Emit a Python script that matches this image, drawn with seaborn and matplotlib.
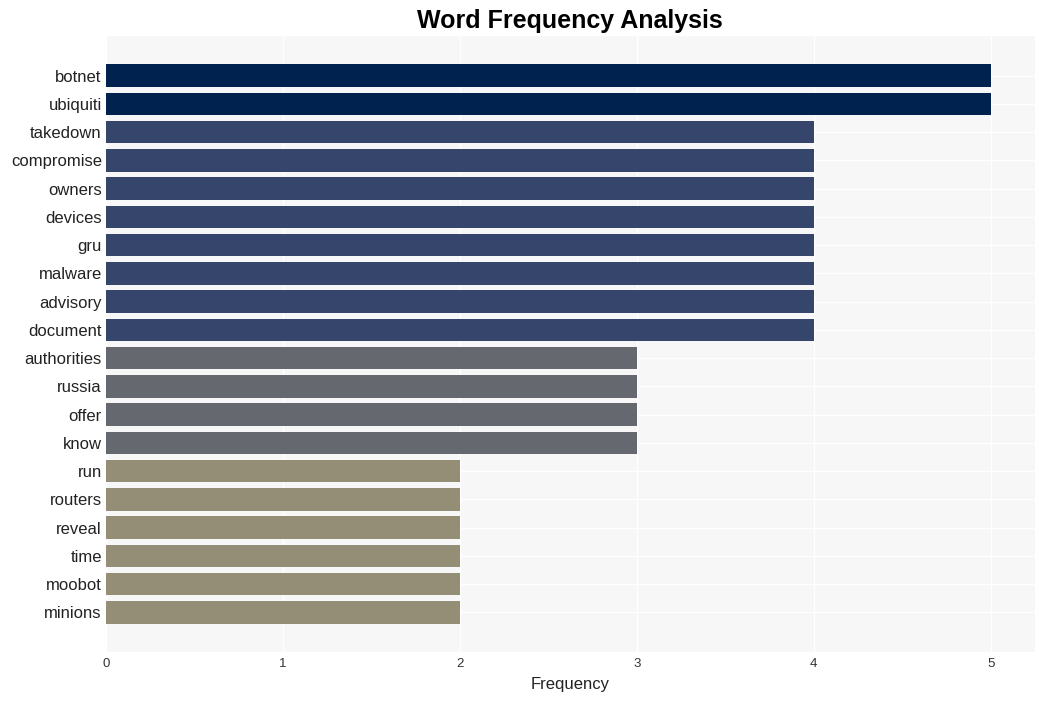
import matplotlib
matplotlib.use("Agg")
import matplotlib.pyplot as plt
import seaborn as sns
import pandas as pd

words = ["botnet", "ubiquiti", "takedown", "compromise", "owners", "devices", "gru",
         "malware", "advisory", "document", "authorities", "russia", "offer", "know",
         "run", "routers", "reveal", "time", "moobot", "minions"]
counts = [5, 5, 4, 4, 4, 4, 4, 4, 4, 4, 3, 3, 3, 3, 2, 2, 2, 2, 2, 2]
level_colors = {5: "#00224e", 4: "#35456c", 3: "#666870", 2: "#948e77"}

sns.set_theme(style="whitegrid")
plt.rcParams["font.family"] = ["Liberation Sans", "DejaVu Sans"]

df = pd.DataFrame({"word": words, "count": counts})

fig = plt.figure(figsize=(10.45, 7.01), dpi=100)
ax = fig.add_axes([0.1014, 0.0699, 0.889, 0.8787])
ax.set_facecolor("#f7f7f7")

sns.barplot(data=df, y="word", x="count", hue="word", legend=False,
            palette=[level_colors[c] for c in counts], width=0.8, ax=ax,
            saturation=1, zorder=2, linewidth=0, edgecolor="none")

ax.set_xlim(0, 5.25)
ax.set_ylim(len(words) - 1 + 1.4, -1.4)
ax.set_xticks([0, 1, 2, 3, 4, 5])
ax.grid(True, color="white", linewidth=1)
ax.set_axisbelow(True)
for s in ax.spines.values():
    s.set_visible(False)
ax.tick_params(axis="y", labelsize=12, colors="#222222", pad=3, length=0)
ax.tick_params(axis="x", labelsize=9.5, colors="#333333", pad=4, length=0)
ax.set_ylabel("")
ax.set_xlabel("Frequency", fontsize=12, color="#222222", labelpad=5)
fig.suptitle("Word Frequency Analysis", fontsize=18, fontweight="bold", y=0.987,
             x=0.545, color="black")

fig.savefig("out.png", dpi=100, facecolor="white")
